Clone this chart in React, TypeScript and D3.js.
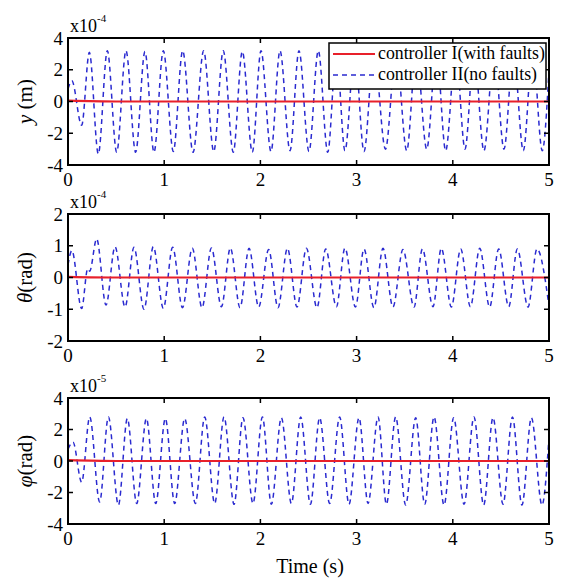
import React from "react";
import * as d3 from "d3";

// ---- data ----
const timeTicks = [0, 1, 2, 3, 4, 5];
const yTicksTop = [-4, -2, 0, 2, 4];
const yTicksMid = [-2, -1, 0, 1, 2];
const yTicksBot = [-4, -2, 0, 2, 4];

// y (m) x1e-4, controller II (no faults): [time, value] extrema
const yNoFaults: [number, number][] = [
  [0, 0.8], [0.04, 1.3], [0.142, -1.5], [0.222, 3.1], [0.315, -3.3], [0.409, 3.2], [0.506, -3.2],
  [0.603, 3.2], [0.703, -3.2], [0.8, 3.15], [0.894, -3.2], [0.991, 3.2], [1.095, -3.15], [1.192, 3.2],
  [1.3, -3.2], [1.41, 3.2], [1.515, -3.15], [1.614, 3.2], [1.718, -3.2], [1.812, 3.15], [1.916, -3.2],
  [2.006, 3.2], [2.11, -3.15], [2.204, 3.2], [2.308, -3.1], [2.401, 3.2], [2.505, -3.15], [2.602, 3.2],
  [2.7, -3.2], [2.79, 3.15], [2.879, -3.1], [2.98, 3.2], [3.077, -3.15], [3.18, 3.2], [3.3, -3.0],
  [3.41, 3.2], [3.521, -3.1], [3.62, 3.15], [3.729, -3.0], [3.83, 3.2], [3.926, -3.1], [4.03, 3.2],
  [4.127, -3.0], [4.22, 3.1], [4.324, -3.1], [4.43, 3.2], [4.532, -3.0], [4.63, 3.1], [4.733, -3.1],
  [4.83, 3.2], [4.93, -3.1], [5.0, 2.0],
];
const yWithFaults: [number, number][] = [
  [0, 0.05], [0.5, 0.0], [1, 0.0], [2, 0.0], [3, 0.0], [4, 0.0], [5, 0.0],
];

// theta (rad) x1e-4
const thetaNoFaults: [number, number][] = [
  [0, 0.4], [0.04, 0.85], [0.142, -0.98], [0.205, 0.28], [0.225, 0.2], [0.298, 1.22], [0.395, -0.87],
  [0.489, 0.97], [0.593, -0.93], [0.686, 0.95], [0.79, -1.0], [0.887, 0.97], [0.991, -0.97], [1.088, 0.95],
  [1.19, -0.95], [1.292, 0.92], [1.393, -0.95], [1.491, 0.93], [1.595, -0.92], [1.688, 0.93], [1.788, -0.95],
  [1.882, 0.92], [1.982, -0.93], [2.086, 0.88], [2.183, -0.95], [2.281, 0.92], [2.381, -0.93], [2.478, 0.92],
  [2.588, -0.95], [2.679, 0.9], [2.79, -0.92], [2.879, 0.93], [2.988, -0.93], [3.077, 0.9], [3.18, -0.95],
  [3.274, 0.92], [3.378, -0.93], [3.482, 0.88], [3.597, -0.93], [3.684, 0.9], [3.794, -0.92], [3.881, 0.92],
  [3.985, -0.93], [4.082, 0.9], [4.183, -0.92], [4.28, 0.92], [4.383, -0.93], [4.477, 0.9], [4.581, -0.92],
  [4.671, 0.9], [4.782, -0.93], [4.875, 0.9], [5.0, -0.9],
];
const thetaWithFaults: [number, number][] = [
  [0, 0.02], [0.5, 0.0], [1, 0.0], [2, 0.0], [3, 0.0], [4, 0.0], [5, 0.0],
];

// phi (rad) x1e-5
const phiNoFaults: [number, number][] = [
  [0, 0.75], [0.052, 1.2], [0.142, -1.35], [0.226, 2.8], [0.329, -2.6], [0.42, 2.8], [0.524, -2.8],
  [0.617, 2.7], [0.714, -2.7], [0.815, 2.7], [0.912, -2.7], [1.012, 2.7], [1.109, -2.7], [1.213, 2.7],
  [1.324, -2.7], [1.421, 2.8], [1.525, -2.7], [1.622, 2.8], [1.726, -2.75], [1.819, 2.75], [1.923, -2.7],
  [2.021, 2.8], [2.114, -2.75], [2.218, 2.75], [2.322, -2.7], [2.419, 2.8], [2.52, -2.75], [2.616, 2.75],
  [2.72, -2.7], [2.824, 2.8], [2.921, -2.75], [3.025, 2.75], [3.119, -2.7], [3.223, 2.8], [3.31, -2.75],
  [3.406, 2.8], [3.51, -2.8], [3.614, 2.75], [3.708, -2.75], [3.805, 2.8], [3.909, -2.8], [4.009, 2.75],
  [4.117, -2.75], [4.22, 2.8], [4.321, -2.8], [4.418, 2.75], [4.522, -2.75], [4.62, 2.8], [4.719, -2.8],
  [4.817, 2.75], [4.927, -2.8], [5.0, 1.5],
];
const phiWithFaults: [number, number][] = [
  [0, 0.05], [0.5, 0.0], [1, 0.0], [2, 0.0], [3, 0.0], [4, 0.0], [5, 0.0],
];

const legendLabels = ["controller I(with faults)", "controller II(no faults)"];

// ---- styles ----
const FONT = "'Liberation Serif', 'Times New Roman', serif";
const RED = "#e8202a";
const BLUE = "#2a2ad0";

type Panel = {
  top: number;
  bottom: number;
  domain: [number, number];
  ticks: number[];
  exp: string;
  label: React.ReactNode;
  dashed: [number, number][];
  solid: [number, number][];
  legend?: boolean;
  id: string;
};

const panels: Panel[] = [
  {
    id: "p1", top: 38, bottom: 165, domain: [-4, 4], ticks: yTicksTop, exp: "-4",
    label: (<><tspan fontStyle="italic">y</tspan><tspan> (m)</tspan></>),
    dashed: yNoFaults, solid: yWithFaults, legend: true,
  },
  {
    id: "p2", top: 214, bottom: 341, domain: [-2, 2], ticks: yTicksMid, exp: "-4",
    label: (<><tspan fontStyle="italic">θ</tspan><tspan>(rad)</tspan></>),
    dashed: thetaNoFaults, solid: thetaWithFaults,
  },
  {
    id: "p3", top: 398, bottom: 524, domain: [-4, 4], ticks: yTicksBot, exp: "-5",
    label: (<><tspan fontStyle="italic">φ</tspan><tspan>(rad)</tspan></>),
    dashed: phiNoFaults, solid: phiWithFaults,
  },
];

const LEFT = 68;
const RIGHT = 549;

export default function App() {
  const x = d3.scaleLinear().domain([0, 5]).range([LEFT, RIGHT]);
  return (
    <svg width={562} height={579} style={{ position: "absolute", left: 0, top: 0, background: "#fff" }} fontFamily={FONT}>
      <rect x={0} y={0} width={562} height={579} fill="#fff" />
      {panels.map((p) => {
        const y = d3.scaleLinear().domain(p.domain).range([p.bottom, p.top]);
        const line = d3
          .line<[number, number]>()
          .x((d) => x(d[0]))
          .y((d) => y(d[1]))
          .curve(d3.curveMonotoneX);
        const midY = (p.top + p.bottom) / 2;
        return (
          <g key={p.id}>
            <defs>
              <clipPath id={`clip-${p.id}`}>
                <rect x={LEFT} y={p.top} width={RIGHT - LEFT} height={p.bottom - p.top} />
              </clipPath>
            </defs>
            <g clipPath={`url(#clip-${p.id})`}>
              <path d={line(p.dashed) || ""} fill="none" stroke={BLUE} strokeWidth={1.5} strokeDasharray="5,4" />
              <path d={line(p.solid) || ""} fill="none" stroke={RED} strokeWidth={2.2} />
            </g>
            {/* ticks */}
            {timeTicks.map((t) => (
              <g key={`xt${t}`}>
                <line x1={x(t)} x2={x(t)} y1={p.bottom} y2={p.bottom - 5} stroke="#000" strokeWidth={1.5} />
                <line x1={x(t)} x2={x(t)} y1={p.top} y2={p.top + 5} stroke="#000" strokeWidth={1.5} />
                <text x={x(t)} y={p.bottom + 21} fontSize={19} textAnchor="middle">{t}</text>
              </g>
            ))}
            {p.ticks.map((v) => (
              <g key={`yt${v}`}>
                <line x1={LEFT} x2={LEFT + 5} y1={y(v)} y2={y(v)} stroke="#000" strokeWidth={1.5} />
                <line x1={RIGHT} x2={RIGHT - 5} y1={y(v)} y2={y(v)} stroke="#000" strokeWidth={1.5} />
                <text x={63} y={y(v)} dy="0.35em" fontSize={19} textAnchor="end">{v}</text>
              </g>
            ))}
            <rect x={LEFT} y={p.top} width={RIGHT - LEFT} height={p.bottom - p.top} fill="none" stroke="#000" strokeWidth={2} />
            {/* exponent */}
            <text x={70} y={p.top - 6} fontSize={18}>x10</text>
            <text x={97} y={p.top - 16} fontSize={11}>{p.exp}</text>
            {/* y label */}
            <text transform={`translate(32,${midY}) rotate(-90)`} fontSize={21} textAnchor="middle">{p.label}</text>
            {p.legend && (
              <g>
                <rect x={329} y={43} width={217} height={46} fill="#fff" stroke="#000" strokeWidth={1.5} />
                <line x1={333} x2={375} y1={54} y2={54} stroke={RED} strokeWidth={2.2} />
                <line x1={333} x2={375} y1={75} y2={75} stroke={BLUE} strokeWidth={1.5} strokeDasharray="5,4" />
                <text x={378} y={59} fontSize={17.8}>{legendLabels[0]}</text>
                <text x={378} y={80} fontSize={17.8}>{legendLabels[1]}</text>
              </g>
            )}
          </g>
        );
      })}
      <text x={310} y={573} fontSize={20} textAnchor="middle">Time (s)</text>
    </svg>
  );
}
